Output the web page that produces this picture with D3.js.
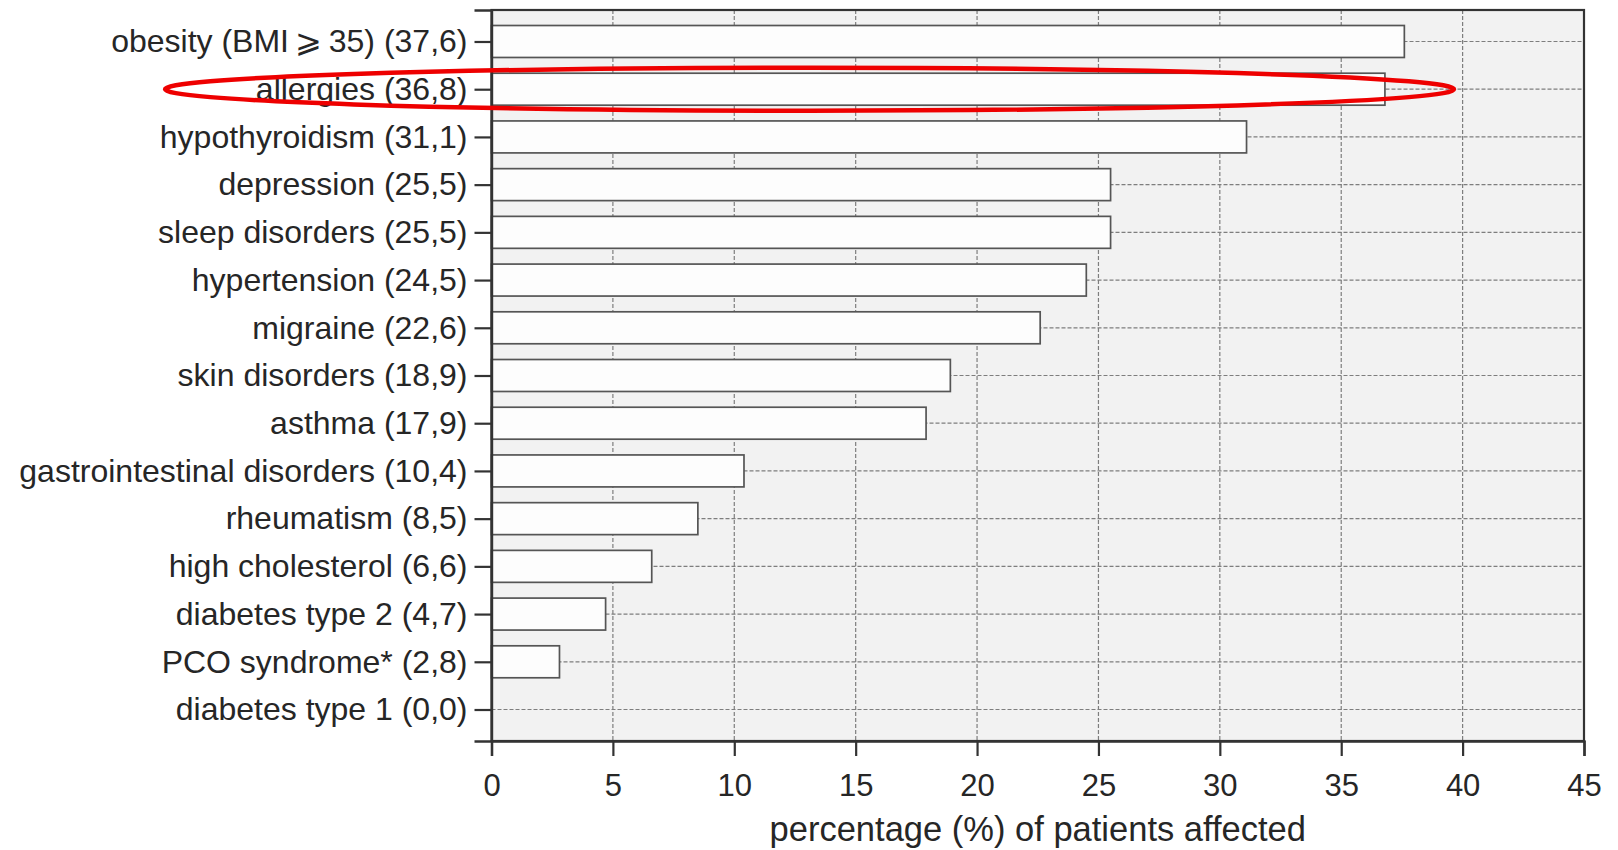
<!DOCTYPE html>
<html>
<head>
<meta charset="utf-8">
<script src="https://cdn.jsdelivr.net/npm/d3@7"></script>
<style>
  html, body { margin: 0; padding: 0; background: #ffffff; }
  svg { display: block; }
  text { font-family: "Liberation Sans", Arial, Helvetica, sans-serif; fill: #262626; }
</style>
</head>
<body>
<svg id="chart" width="1618" height="850"></svg>
<script>
// ---- data ----
const categories = [
  "obesity (BMI\u2009\u2A7E\u200935) (37,6)",
  "allergies (36,8)",
  "hypothyroidism (31,1)",
  "depression (25,5)",
  "sleep disorders (25,5)",
  "hypertension (24,5)",
  "migraine (22,6)",
  "skin disorders (18,9)",
  "asthma (17,9)",
  "gastrointestinal disorders (10,4)",
  "rheumatism (8,5)",
  "high cholesterol (6,6)",
  "diabetes type 2 (4,7)",
  "PCO syndrome* (2,8)",
  "diabetes type 1 (0,0)"
];
const values = [37.6, 36.8, 31.1, 25.5, 25.5, 24.5, 22.6, 18.9, 17.9, 10.4, 8.5, 6.6, 4.7, 2.8, 0.0];
const xTicks = [0, 5, 10, 15, 20, 25, 30, 35, 40, 45];
const xTitle = "percentage (%) of patients affected";
const highlighted = "allergies (36,8)";

// ---- layout ----
const W = 1618, H = 850;
const margin = { top: 10, right: 34, bottom: 109, left: 491.5 };
const iw = W - margin.left - margin.right;
const ih = H - margin.top - margin.bottom;

const svg = d3.select("#chart");
const g = svg.append("g").attr("transform", `translate(${margin.left},${margin.top})`);

const x = d3.scaleLinear().domain([0, 45]).range([0, iw]);
const y = d3.scalePoint().domain(categories).range([0, ih]).padding(0.66);
const barH = y.step() * 0.67;

// background
g.append("rect").attr("x", 0).attr("y", 0).attr("width", iw).attr("height", ih)
  .attr("fill", "#f2f2f2");

// vertical gridlines
g.append("g").selectAll("line").data(xTicks.filter(t => t > 0 && t < 45)).join("line")
  .attr("x1", d => x(d)).attr("x2", d => x(d))
  .attr("y1", 0).attr("y2", ih)
  .attr("stroke", "#7e7e7e").attr("stroke-width", 1.2)
  .attr("stroke-dasharray", "4,2");

// horizontal gridlines
g.append("g").selectAll("line").data(categories).join("line")
  .attr("x1", 0).attr("x2", iw)
  .attr("y1", d => y(d)).attr("y2", d => y(d))
  .attr("stroke", "#7e7e7e").attr("stroke-width", 1.2)
  .attr("stroke-dasharray", "4,2");

// bars
g.append("g").selectAll("rect").data(values.map((v, i) => ({ c: categories[i], v })))
  .join("rect")
  .attr("x", x(0))
  .attr("y", d => y(d.c) - barH / 2)
  .attr("width", d => x(d.v) - x(0))
  .attr("height", barH)
  .attr("fill", "#fdfdfd")
  .attr("stroke", d => d.v > 0 ? "#555555" : "none")
  .attr("stroke-width", 1.7);

// frame
g.append("rect").attr("x", 0).attr("y", 0).attr("width", iw).attr("height", ih)
  .attr("fill", "none").attr("stroke", "#333333").attr("stroke-width", 2.2);

// y axis
const yAxis = d3.axisLeft(y).tickSize(17).tickPadding(7);
const yg = g.append("g").call(yAxis);
yg.select(".domain").attr("stroke", "#333").attr("stroke-width", 2.4);
yg.selectAll(".tick line").attr("stroke", "#333").attr("stroke-width", 2.2);
yg.selectAll(".tick text").attr("font-size", 32).attr("fill", "#262626")
  .attr("font-family", "Liberation Sans, Arial, sans-serif");

// x axis
const xAxis = d3.axisBottom(x).tickValues(xTicks).tickSize(15).tickPadding(18).tickFormat(d3.format("d"));
const xg = g.append("g").attr("transform", `translate(0,${ih})`).call(xAxis);
xg.select(".domain").attr("stroke", "#333").attr("stroke-width", 2.4);
xg.selectAll(".tick line").attr("stroke", "#333").attr("stroke-width", 2.2);
xg.selectAll(".tick text").attr("font-size", 31).attr("fill", "#262626")
  .attr("font-family", "Liberation Sans, Arial, sans-serif");

// x title
g.append("text")
  .attr("x", iw / 2).attr("y", ih + 100)
  .attr("text-anchor", "middle")
  .attr("font-size", 34.5)
  .text(xTitle);

// red highlight ellipse around the highlighted category
g.append("ellipse")
  .attr("cx", x(13.1)).attr("cy", y(highlighted))
  .attr("rx", 644.5).attr("ry", 21.5)
  .attr("fill", "none").attr("stroke", "#ee0000").attr("stroke-width", 4.5);
</script>
</body>
</html>
